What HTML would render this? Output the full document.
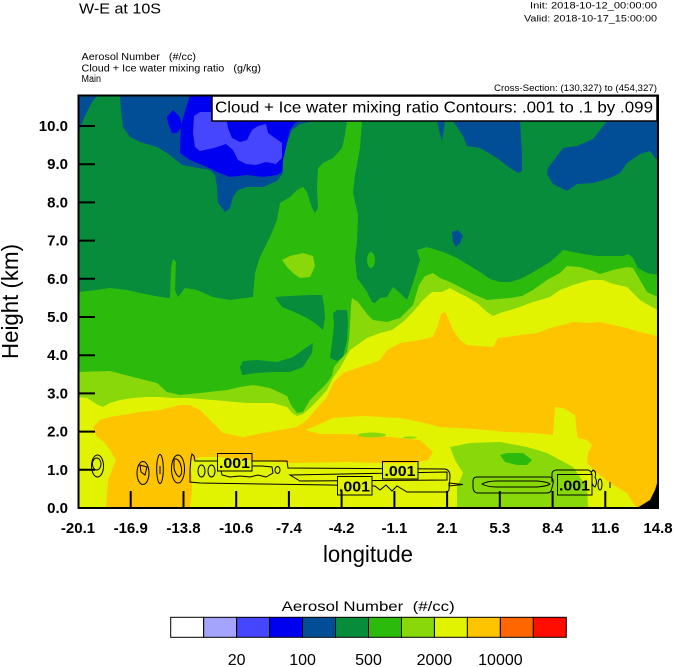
<!DOCTYPE html>
<html><head><meta charset="utf-8"><style>
html,body{margin:0;padding:0;background:#fff;}
svg{display:block;font-family:"Liberation Sans",sans-serif;}
</style></head><body>
<svg width="674" height="667" viewBox="0 0 674 667" xmlns="http://www.w3.org/2000/svg">
<defs>
<clipPath id="pc"><rect x="78" y="96" width="580" height="412"/></clipPath>
<mask id="lblmask">
<rect x="0" y="0" width="674" height="667" fill="#fff"/>
<rect x="217" y="453" width="35" height="18" fill="#000"/>
<rect x="382" y="461" width="36" height="18" fill="#000"/>
<rect x="337" y="476" width="35" height="19" fill="#000"/>
<rect x="557" y="474" width="35" height="21" fill="#000"/>
</mask>
</defs>

<!-- top texts -->
<text x="79" y="13.5" font-size="15" textLength="82" lengthAdjust="spacingAndGlyphs">W-E at 10S</text>
<text x="530" y="8.5" font-size="9" textLength="127" lengthAdjust="spacingAndGlyphs">Init: 2018-10-12_00:00:00</text>
<text x="524" y="21.5" font-size="9" textLength="133" lengthAdjust="spacingAndGlyphs">Valid: 2018-10-17_15:00:00</text>
<text x="81.5" y="60" font-size="10" textLength="114.5" lengthAdjust="spacingAndGlyphs" xml:space="preserve">Aerosol Number   (#/cc)</text>
<text x="81.5" y="71.5" font-size="10" textLength="179.5" lengthAdjust="spacingAndGlyphs" xml:space="preserve">Cloud + Ice water mixing ratio   (g/kg)</text>
<text x="81.5" y="82" font-size="10" textLength="19.5" lengthAdjust="spacingAndGlyphs">Main</text>
<text x="494" y="91" font-size="9" textLength="163" lengthAdjust="spacingAndGlyphs">Cross-Section: (130,327) to (454,327)</text>

<g clip-path="url(#pc)">
<!-- base dark green -->
<rect x="78" y="96" width="580" height="412" fill="#078c3c"/>
<!-- dark blue -->
<g fill="#024e96">
<polygon points="78,96 97,96 92,102 88,110 84,118 81,126 79,133 78,133"/>
<polygon points="120,96 121,110 123,127 130,137 140,142 157,147 170,155 182,165 193,167 210,170 215,175 217,187 218,203 225,212 230,208 233,197 238,190 247,187 263,187 270,184 277,181 283,173 283,160 287,142 292,130 300,124 310,122 316,121 316,96"/>
<polygon points="437,121 445,121 443,135 442,141 440,134"/>
<polygon points="453,121 520,121 522,153 522,171 518,173 510,168 497,158 480,148 467,146 463,136"/>
<polygon points="607,121 658,121 658,160 655,158 650,151 640,154 627,163 620,173 610,178 593,183 577,184 567,191 553,184 547,174 548,168 557,156 563,148 577,146 593,139"/>
<polygon points="452,232 458,230 463,236 460,243 456,247 453,242"/>
</g>
<!-- blue -->
<g fill="#0000f0">
<polygon points="190,96 187,105 184,115 181,125 180,153 190,160 207,167 217,172 230,177 247,175 263,177 277,175 282,172 283,160 287,143 290,130 295,123 300,121 300,96"/>
<polygon points="167,117 173,110 180,117 182,127 177,133 172,133 168,123"/>
</g>
<!-- light blue -->
<polygon fill="#4646ff" points="194,116 200,112 212,112 226,116 228,128 232,138 240,142 247,140 252,130 258,126 266,124 268,133 275,138 282,143 282,158 276,164 266,162 256,165 246,164 238,160 233,150 226,144 214,148 200,151 195,147 193,133"/>

<!-- bright green -->
<polygon fill="#2cbb0d" points="78,292 97,290 110,288 127,290 140,293 160,297 170,298 171,268 173,259 176,262 175,290 178,297 185,288 197,290 213,297 230,300 253,297 255,273 260,257 270,237 277,220 280,203 290,197 297,190 303,187 307,192 312,208 315,213 318,208 317,188 318,168 323,163 333,158 342,148 345,135 347,121 362,121 360,148 355,175 353,192 355,202 358,215 357,242 355,258 357,278 360,282 367,292 372,302 375,303 380,298 387,297 393,287 400,293 407,300 413,283 420,260 417,250 427,247 443,252 457,258 470,266 480,272 490,279 500,282 510,282 520,279 530,274 540,268 550,262 558,255 563,250 573,252 583,254 597,256 610,256 623,256 628,254 633,258 638,268 647,273 658,275 658,508 78,508"/>
<!-- dark green holes -->
<g fill="#078c3c">
<polygon points="240,367 243,361 257,360 277,362 293,357 307,347 313,343 312,353 303,367 290,372 273,372 257,373 242,375"/>
<polygon points="275,297 290,296 310,295 322,295 324,305 325,318 323,330 316,324 307,318 292,311 282,307"/>
<polygon points="333,313 337,310 347,310 348,322 347,340 343,357 337,361 330,358 332,343 334,325"/>
</g>
<ellipse cx="371" cy="260" rx="4" ry="8" fill="#2cbb0d"/>

<!-- yellow-green -->
<polygon fill="#88d80a" points="78,372 110,371 133,377 157,383 167,392 180,395 200,393 227,390 240,387 253,385 270,388 287,396 291,405 297,413 303,412 310,400 320,390 327,383 332,376 334,367 340,360 347,352 349,340 350,325 351,305 352,298 358,302 367,314 373,320 387,322 400,318 413,305 419,285 425,276 433,273 440,278 450,282 460,287 473,294 487,300 498,299 510,298 522,296 533,290 547,280 560,273 567,266 580,267 593,271 600,274 613,270 627,267 633,268 640,280 647,292 658,297 658,508 78,508"/>
<polygon fill="#88d80a" points="282,260 290,256 303,253 313,256 315,266 310,277 300,278 293,273 287,267"/>

<!-- yellow -->
<polygon fill="#e1f300" points="78,397 87,398 98,405 103,407 110,403 120,400 133,398 147,397 160,397 173,398 187,398 213,400 247,403 273,403 287,407 292,413 297,416 303,414 310,408 318,400 327,390 333,378 340,368 350,350 367,338 380,333 392,330 403,322 413,312 423,300 432,292 442,292 450,288 457,292 467,297 477,303 487,312 493,316 500,313 510,310 520,307 530,303 540,300 550,297 560,290 573,285 590,280 603,280 613,284 627,287 633,293 640,300 650,306 658,310 658,508 78,508"/>

<!-- orange -->
<polygon fill="#ffc400" points="93,427 100,420 110,417 123,415 140,412 160,410 180,405 190,405 200,410 210,420 217,427 223,433 243,437 263,433 280,430 297,427 307,420 313,413 320,405 327,397 333,383 343,373 360,367 373,363 380,360 387,350 393,347 400,343 420,340 433,337 438,325 441,314 445,312 449,320 453,330 460,340 467,345 493,347 498,338 507,337 520,335 537,333 550,328 563,325 573,322 587,323 600,322 613,325 627,328 640,332 653,335 658,337 658,508 106,508 108,480 112,470 116,460 110,450 104,442 96,436"/>

<!-- yellow bottom + band -->
<polygon fill="#e1f300" points="190,508 192,490 192,477 190,462 200,457 220,457 247,460 290,463 347,462 380,463 413,463 428,460 433,452 420,440 380,436 345,434 320,434 305,430 320,424 333,418 363,416 400,418 420,422 440,427 460,428 487,430 507,432 533,433 553,435 555,407 563,408 575,415 577,433 578,438 587,440 592,445 588,453 587,463 597,473 610,483 627,493 633,503 637,508"/>
<ellipse cx="372" cy="435" rx="14" ry="2.5" fill="#88d80a"/>
<ellipse cx="410" cy="437.5" rx="7" ry="1" fill="#88d80a"/>
<polygon fill="#88d80a" points="450,447 470,443 500,442 527,447 547,453 560,460 573,467 580,477 587,487 588,508 457,508 457,487 463,473 455,460"/>
<polygon fill="#2cbb0d" points="500,455 507,453 523,453 532,460 527,465 517,465 505,462"/>
<polygon fill="#000" points="637,508 650,500 655,490 658,480 658,508"/>

<!-- contour lines -->
<g fill="none" stroke="#000" stroke-width="1" mask="url(#lblmask)">
<ellipse cx="97.5" cy="466" rx="6" ry="11"/>
<ellipse cx="96.7" cy="464" rx="4.3" ry="6"/>
<ellipse cx="143" cy="473" rx="6" ry="11.5"/>
<polygon points="140,465 147,467 145,475 141,472"/>
<ellipse cx="160" cy="469" rx="3.3" ry="14.5"/>
<line x1="160" y1="466" x2="160" y2="474"/>
<ellipse cx="178" cy="469" rx="6.5" ry="14"/>
<path d="M174,459 Q179,458 181,466 Q183,474 179,477 Q175,474 174,468 Z"/>
<path d="M190,482 L190,470 L191,458 L192,454 L194,456 L195,461 L287,461 L288,468 L445,469 Q450,470 450,476 L449,490 Q448,492 445,492 L407,492 L402,489 L397,486 L392,491 L386,485 L380,490 L375,486 L372,486 L330,485 L200,483 Z"/>
<path d="M290,475 L447,472 L447,480 L300,481 Z"/>
<ellipse cx="201.5" cy="471" rx="3.5" ry="6"/>
<ellipse cx="211.5" cy="471" rx="3.5" ry="6"/>
<path d="M220,466 L232,465 L240,467 L250,466 L262,466 L272,467 L273,473 L266,477 L258,475 L250,477 L240,476 L230,477 L222,475 Z"/>
<ellipse cx="277.5" cy="470" rx="2.5" ry="3.5"/>
<path d="M449,483 L463,484.5 L449,486 Z"/>
<path d="M477,477 L550,477 Q554,478 553,484 L551,491 Q550,493 546,493 L477,493 Q473,492 473,487 L473,481 Q473,477 477,477 Z"/>
<path d="M482,484 Q487,481 497,481 L537,481 Q548,482 550,484 Q548,486 537,487 L497,487 Q487,487 482,484 Z"/>
<path d="M552,482 L552,473 Q553,470 557,470 L588,470 Q592,471 592,476 L590,487"/>
<path d="M593,470 Q597,472 595,477 Q598,482 595,487 Q591,485 592,478 Q590,473 593,470 Z"/>
<ellipse cx="600" cy="484.5" rx="2" ry="5.5"/>
<line x1="610" y1="482" x2="610" y2="488"/>
</g>
<g fill="none" stroke="#000" stroke-width="1">
<rect x="217.5" y="453.5" width="34.5" height="17.5"/>
<rect x="382.5" y="461.5" width="35.5" height="17.5"/>
<rect x="337.5" y="476.5" width="34.5" height="18.5"/>
<rect x="557.5" y="474.5" width="34.5" height="20.5"/>
</g>
<g font-size="15" font-weight="bold" fill="#000">
<text x="219" y="468" textLength="31" lengthAdjust="spacingAndGlyphs">.001</text>
<text x="384.5" y="476" textLength="31" lengthAdjust="spacingAndGlyphs">.001</text>
<text x="339" y="491.5" textLength="31" lengthAdjust="spacingAndGlyphs">.001</text>
<text x="559" y="490.5" textLength="31" lengthAdjust="spacingAndGlyphs">.001</text>
</g>
</g>

<!-- legend box -->
<rect x="212" y="96" width="445" height="25" fill="#fff" stroke="#000" stroke-width="1.5"/>
<text x="215" y="112.7" font-size="16" textLength="438" lengthAdjust="spacingAndGlyphs">Cloud + Ice water mixing ratio Contours: .001 to .1 by .099</text>

<!-- frame -->
<rect x="78.5" y="95.5" width="579.5" height="412.5" fill="none" stroke="#000" stroke-width="2"/>
<!-- ticks -->
<g stroke="#000" stroke-width="2">
<line x1="78" y1="469.8" x2="95" y2="469.8"/>
<line x1="78" y1="431.6" x2="95" y2="431.6"/>
<line x1="78" y1="393.4" x2="95" y2="393.4"/>
<line x1="78" y1="355.2" x2="95" y2="355.2"/>
<line x1="78" y1="317" x2="95" y2="317"/>
<line x1="78" y1="278.8" x2="95" y2="278.8"/>
<line x1="78" y1="240.6" x2="95" y2="240.6"/>
<line x1="78" y1="202.4" x2="95" y2="202.4"/>
<line x1="78" y1="164.2" x2="95" y2="164.2"/>
<line x1="78" y1="126" x2="95" y2="126"/>
<line x1="130.7" y1="508" x2="130.7" y2="491"/>
<line x1="183.5" y1="508" x2="183.5" y2="491"/>
<line x1="236.2" y1="508" x2="236.2" y2="491"/>
<line x1="288.9" y1="508" x2="288.9" y2="491"/>
<line x1="341.6" y1="508" x2="341.6" y2="491"/>
<line x1="394.4" y1="508" x2="394.4" y2="491"/>
<line x1="447.1" y1="508" x2="447.1" y2="491"/>
<line x1="499.8" y1="508" x2="499.8" y2="491"/>
<line x1="552.6" y1="508" x2="552.6" y2="491"/>
<line x1="605.3" y1="508" x2="605.3" y2="491"/>
</g>

<!-- y tick labels -->
<g font-size="15" font-weight="bold" text-anchor="end" fill="#000">
<text x="68" y="513">0.0</text>
<text x="68" y="474.8">1.0</text>
<text x="68" y="436.6">2.0</text>
<text x="68" y="398.4">3.0</text>
<text x="68" y="360.2">4.0</text>
<text x="68" y="322">5.0</text>
<text x="68" y="283.8">6.0</text>
<text x="68" y="245.6">7.0</text>
<text x="68" y="207.4">8.0</text>
<text x="68" y="169.2">9.0</text>
<text x="68" y="131">10.0</text>
</g>
<!-- x tick labels -->
<g font-size="15" font-weight="bold" text-anchor="middle" fill="#000">
<text x="78" y="533">-20.1</text>
<text x="130.7" y="533">-16.9</text>
<text x="183.5" y="533">-13.8</text>
<text x="236.2" y="533">-10.6</text>
<text x="288.9" y="533">-7.4</text>
<text x="341.6" y="533">-4.2</text>
<text x="394.4" y="533">-1.1</text>
<text x="447.1" y="533">2.1</text>
<text x="499.8" y="533">5.3</text>
<text x="552.6" y="533">8.4</text>
<text x="605.3" y="533">11.6</text>
<text x="658" y="533">14.8</text>
</g>
<text x="323" y="562" font-size="23" textLength="90" lengthAdjust="spacingAndGlyphs">longitude</text>
<text transform="translate(18,301.5) rotate(-90)" text-anchor="middle" font-size="23" textLength="115" lengthAdjust="spacingAndGlyphs">Height (km)</text>

<!-- colorbar -->
<text x="281.7" y="611" font-size="14" textLength="173" lengthAdjust="spacingAndGlyphs" xml:space="preserve">Aerosol Number  (#/cc)</text>
<g stroke="#000" stroke-width="1">
<rect x="170.7" y="617.3" width="32.97" height="20" fill="#ffffff"/>
<rect x="203.67" y="617.3" width="32.97" height="20" fill="#a4a4fc"/>
<rect x="236.63" y="617.3" width="32.97" height="20" fill="#4646ff"/>
<rect x="269.6" y="617.3" width="32.97" height="20" fill="#0000f0"/>
<rect x="302.57" y="617.3" width="32.97" height="20" fill="#024e96"/>
<rect x="335.53" y="617.3" width="32.97" height="20" fill="#078c3c"/>
<rect x="368.5" y="617.3" width="32.97" height="20" fill="#2cbb0d"/>
<rect x="401.47" y="617.3" width="32.97" height="20" fill="#88d80a"/>
<rect x="434.43" y="617.3" width="32.97" height="20" fill="#e1f300"/>
<rect x="467.4" y="617.3" width="32.97" height="20" fill="#ffc400"/>
<rect x="500.37" y="617.3" width="32.97" height="20" fill="#ff6600"/>
<rect x="533.33" y="617.3" width="32.97" height="20" fill="#ff0d00"/>
</g>
<g font-size="16" text-anchor="middle" fill="#000">
<text x="236.6" y="665">20</text>
<text x="302.6" y="665">100</text>
<text x="368.5" y="665">500</text>
<text x="434.4" y="665">2000</text>
<text x="500.4" y="665">10000</text>
</g>
</svg>
</body></html>
